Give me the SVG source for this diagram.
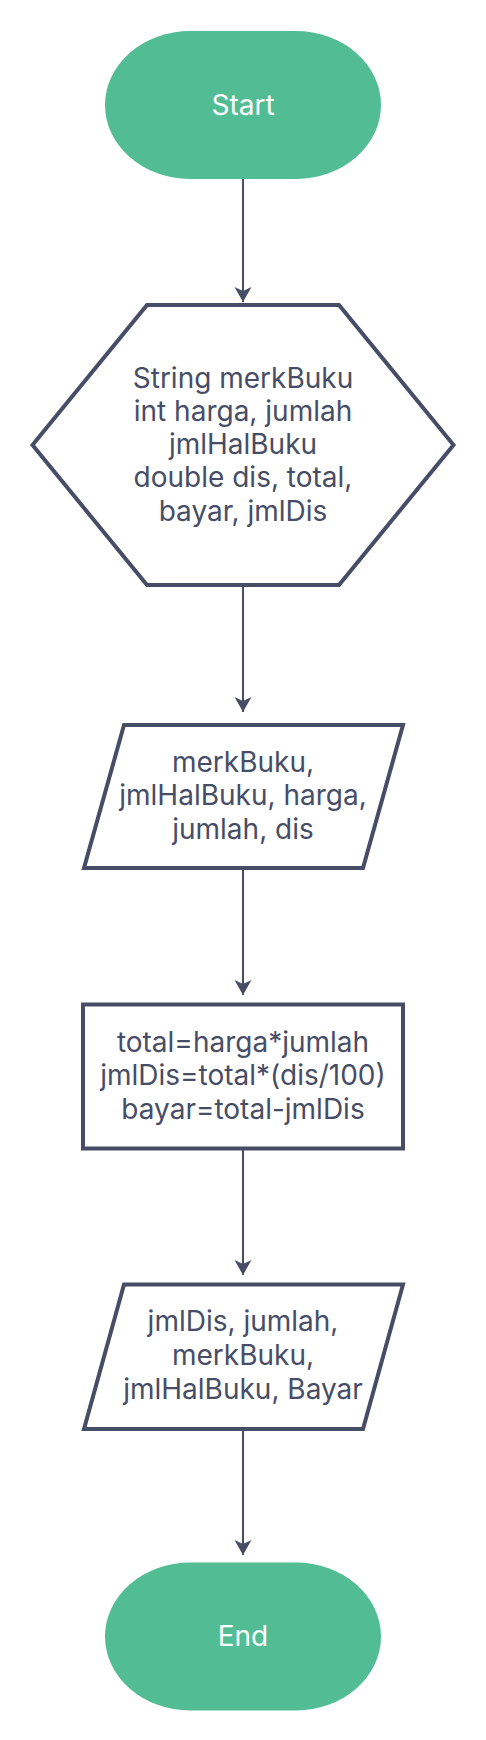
<svg xmlns="http://www.w3.org/2000/svg" width="486" height="1740" viewBox="0 0 486 1740">
<style>
.term{fill:#52bd94;}
.shape{fill:#ffffff;stroke:#474d66;stroke-width:4;stroke-linejoin:miter;}
.t{font-family:Inter,"Noto Sans","DejaVu Sans",sans-serif;font-size:28px;fill:#474d66;text-anchor:middle;}
.tw{font-family:Inter,"Noto Sans","DejaVu Sans",sans-serif;font-size:28px;fill:#ffffff;text-anchor:middle;}
.conn{stroke:#474d66;stroke-width:2;fill:none;marker-end:url(#arr);}
</style>
<defs>
<marker id="arr" markerUnits="userSpaceOnUse" viewBox="0 0 16 18" markerWidth="16" markerHeight="18" refX="15" refY="8.5" orient="auto">
<path d="M0,0 L15,8.5 L0,17 L4,8.5 Z" fill="#474d66"/>
</marker>
</defs>
<rect width="486" height="1740" fill="#ffffff"/>
<g id="connectors">
<line class="conn" x1="243" y1="179" x2="243" y2="302"/>
<line class="conn" x1="243" y1="585" x2="243" y2="712"/>
<line class="conn" x1="243" y1="868" x2="243" y2="995"/>
<line class="conn" x1="243" y1="1148" x2="243" y2="1275"/>
<line class="conn" x1="243" y1="1429" x2="243" y2="1555"/>
</g>
<g id="start">
<rect class="term" x="105" y="31" width="276" height="148" rx="85" ry="74"/>
<text class="tw" x="243" y="114.5">Start</text>
</g>
<g id="declare">
<polygon class="shape" points="147,305 339,305 453.5,445 339,585 147,585 32.5,445"/>
<text class="t" x="243" y="387.7">String merkBuku</text>
<text class="t" x="243" y="420.5">int harga, jumlah</text>
<text class="t" x="243" y="453.5">jmlHalBuku</text>
<text class="t" x="243" y="487">double dis, total,</text>
<text class="t" x="243" y="520.5">bayar, jmlDis</text>
</g>
<g id="input">
<polygon class="shape" points="124,725 403,725 363,868 84,868"/>
<text class="t" x="243" y="771.5">merkBuku,</text>
<text class="t" x="243" y="805">jmlHalBuku, harga,</text>
<text class="t" x="243" y="838.5">jumlah, dis</text>
</g>
<g id="process">
<rect class="shape" x="83" y="1004.5" width="320" height="144"/>
<text class="t" x="243" y="1051.6">total=harga*jumlah</text>
<text class="t" x="243" y="1085.3">jmlDis=total*(dis/100)</text>
<text class="t" x="243" y="1119">bayar=total-jmlDis</text>
</g>
<g id="output">
<polygon class="shape" points="124,1284.5 403,1284.5 363,1429 84,1429"/>
<text class="t" x="243" y="1331">jmlDis, jumlah,</text>
<text class="t" x="243" y="1364.6">merkBuku,</text>
<text class="t" x="243" y="1398.5">jmlHalBuku, Bayar</text>
</g>
<g id="end">
<rect class="term" x="105" y="1562.5" width="276" height="148" rx="85" ry="74"/>
<text class="tw" x="243" y="1646">End</text>
</g>
</svg>
